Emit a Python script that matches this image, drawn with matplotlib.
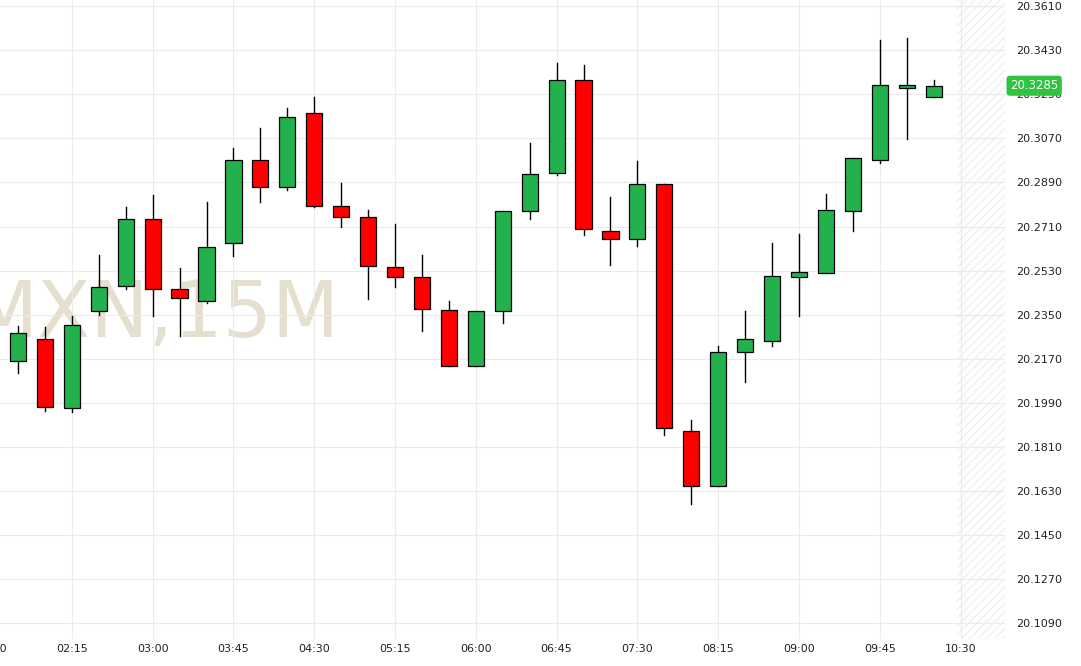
import matplotlib
matplotlib.use("Agg")
import matplotlib.pyplot as plt
from matplotlib.patches import Rectangle

opens  = [20.2162,20.2252,20.1970,20.2367,20.2469,20.2743,20.2457,20.2408,20.2641,20.2980,
          20.2870,20.3173,20.2796,20.2751,20.2547,20.2506,20.2371,20.2142,20.2367,20.2772,
          20.2927,20.3308,20.2694,20.2661,20.2882,20.1876,20.1651,20.2199,20.2244,20.2506,
          20.2522,20.2772,20.2980,20.3275,20.3240]
closes = [20.2277,20.1974,20.2310,20.2465,20.2743,20.2457,20.2420,20.2625,20.2980,20.2870,
          20.3156,20.2796,20.2751,20.2551,20.2506,20.2375,20.2142,20.2367,20.2772,20.2923,
          20.3308,20.2702,20.2661,20.2882,20.1888,20.1651,20.2199,20.2252,20.2510,20.2526,
          20.2776,20.2989,20.3287,20.3287,20.3285]
highs  = [20.2305,20.2301,20.2346,20.2596,20.2792,20.2837,20.2543,20.2809,20.3030,20.3111,
          20.3193,20.3238,20.2886,20.2776,20.2719,20.2592,20.2408,20.2367,20.2772,20.3050,
          20.3377,20.3369,20.2829,20.2976,20.2882,20.1921,20.2224,20.2367,20.2641,20.2678,
          20.2845,20.2989,20.3471,20.3480,20.3308]
lows   = [20.2113,20.1958,20.1954,20.2350,20.2457,20.2346,20.2265,20.2400,20.2588,20.2809,
          20.2858,20.2788,20.2710,20.2416,20.2465,20.2285,20.2142,20.2142,20.2318,20.2743,
          20.2919,20.2674,20.2555,20.2629,20.1860,20.1577,20.1651,20.2076,20.2224,20.2346,
          20.2522,20.2694,20.2968,20.3066,20.3240]
x_labels = ["01:30","02:15","03:00","03:45","04:30","05:15","06:00","06:45","07:30","08:15","09:00","09:45","10:30"]
y_ticks = [20.3610,20.3430,20.3250,20.3070,20.2890,20.2710,20.2530,20.2350,20.2170,20.1990,20.1810,20.1630,20.1450,20.1270,20.1090]
last_price = 20.3285

fig = plt.figure(figsize=(10.81, 6.66), dpi=100)
ax = fig.add_axes([0, 0.04, 1005/1081, 0.96])
green = "#22b14c"; red = "#ff0000"
w = 0.6
for i, (o, c, h, l) in enumerate(zip(opens, closes, highs, lows)):
    col = green if c >= o else red
    ax.plot([i, i], [l, h], color="black", lw=1, zorder=2)
    ax.add_patch(Rectangle((i - w/2, min(o, c)), w, max(abs(c - o), 0.0004),
                           facecolor=col, edgecolor="black", lw=0.9, zorder=3))
xt = list(range(2, 36, 3))
ax.set_xticks(xt)
ax.set_xticklabels(x_labels[1:])
ax.set_yticks(y_ticks)
ax.yaxis.tick_right()
ax.set_yticklabels([f"{v:.4f}" for v in y_ticks])
ax.tick_params(axis="both", length=0, labelsize=8, colors="#222222")
ax.tick_params(axis="y", pad=8)
ax.grid(True, color="#ebebeb", lw=0.8, zorder=0)
for s in ax.spines.values():
    s.set_visible(False)
ax.axvspan(34.85, 36.65, facecolor="none", hatch="////", edgecolor="#f0f0f0", lw=0, zorder=0)
ax.set_xlim(-0.668, 36.65)
ax.set_ylim(20.1025, 20.3635)
# partially visible first time label
ax.text(-1, -0.008, x_labels[0], transform=ax.get_xaxis_transform(), ha="center", va="top",
        fontsize=8, color="#222222", clip_on=False)
ax.text(-1.75, 20.2350, "MXN,15M", fontsize=56, color="#ddd5c0", alpha=0.75,
        ha="left", va="center", zorder=1)
ax.text(1.005, last_price, f"{last_price:.4f}", transform=ax.get_yaxis_transform(),
        ha="left", va="center", fontsize=8.5, color="white", clip_on=False,
        bbox=dict(boxstyle="round,pad=0.3", facecolor="#2ec440", edgecolor="none"))
fig.savefig("out.png", dpi=100)
